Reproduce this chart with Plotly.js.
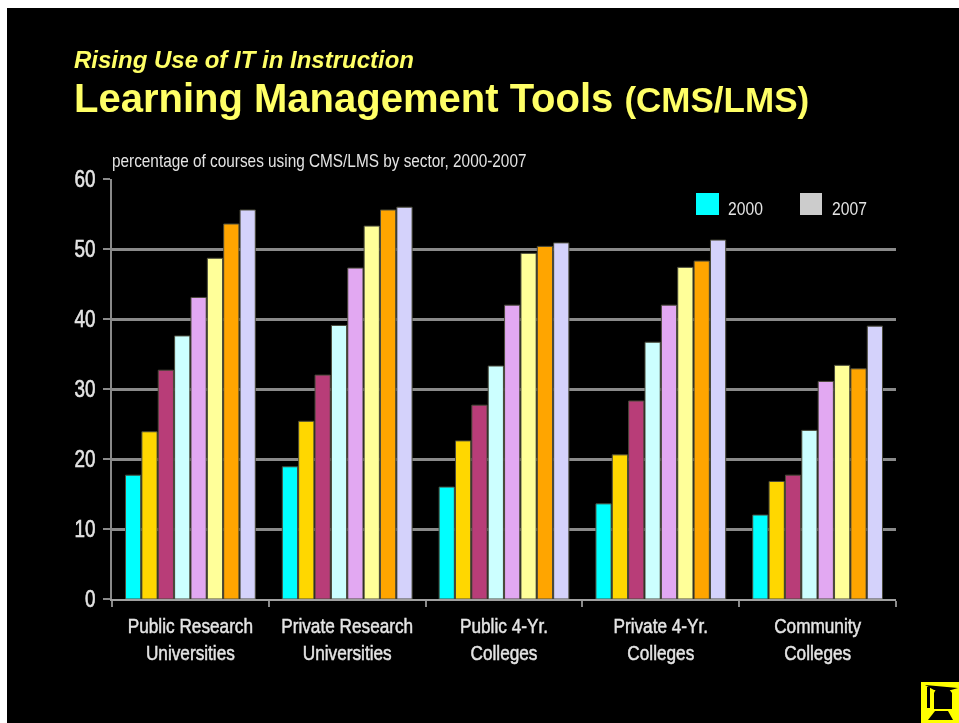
<!DOCTYPE html>
<html><head><meta charset="utf-8">
<script src="https://cdn.plot.ly/plotly-3.0.1.min.js"></script>
<style>html,body{margin:0;padding:0;background:#fff;width:959px;height:723px;overflow:hidden}
#c{position:absolute;left:7px;top:8px;width:952px;height:715px;filter:blur(0.45px)}</style>
</head><body><div id="c"></div>
<script>
const categories = ["Public Research<br>Universities","Private Research<br>Universities","Public 4-Yr.<br>Colleges","Private 4-Yr.<br>Colleges","Community<br>Colleges"];
const years = ["2000","2001","2002","2003","2004","2005","2006","2007"];
const v2000 = [17.7,18.9,16.0,13.6,12.0];
const v2001 = [23.9,25.4,22.6,20.6,16.8];
const v2002 = [32.7,32.0,27.7,28.3,17.7];
const v2003 = [37.6,39.1,33.3,36.7,24.1];
const v2004 = [43.1,47.3,42.0,42.0,31.1];
const v2005 = [48.7,53.3,49.4,47.4,33.4];
const v2006 = [53.6,55.6,50.4,48.3,32.9];
const v2007 = [55.6,56.0,50.9,51.3,39.0];
const colors = ["#00ffff","#ffd700","#b83d78","#ccffff","#e2a8f2","#ffff99","#ffa500","#d4d2fb"];
const series = [v2000,v2001,v2002,v2003,v2004,v2005,v2006,v2007];
const yticks = [0,10,20,30,40,50,60];

const traces = series.map((s,i)=>({type:"bar",name:years[i],x:categories,y:s,
  marker:{color:colors[i],line:{color:"#4a4a3a",width:1}},hoverinfo:"y"}));

const L=112,R=896,T=179,B=599;
const px=x=>(x-L)/(R-L), py=y=>(B-y)/(B-T);
const sans="Liberation Sans, Arial, sans-serif";
const txt=(text,x,y,size,color)=>({text,xref:"paper",yref:"paper",x:px(x),y:py(y),
  xanchor:"left",yanchor:"middle",showarrow:false,align:"left",font:{family:sans,size,color}});
const rect=(x0,y0,x1,y1,color)=>({type:"rect",xref:"paper",yref:"paper",x0:px(x0),x1:px(x1),y0:py(y0),y1:py(y1),
  fillcolor:color,line:{width:0},layer:"above"});
const poly=(pts,color)=>({type:"path",xref:"paper",yref:"paper",
  path:"M"+pts.map(p=>px(p[0])+","+py(p[1])).join("L")+"Z",fillcolor:color,line:{width:0},layer:"above"});

const layout={
  width:952,height:715,autosize:false,
  margin:{l:L-7,r:959-R,t:T-8,b:723-B,pad:0},
  paper_bgcolor:"#000",plot_bgcolor:"#000",showlegend:false,
  barmode:"group",bargap:0.165,bargroupgap:0.07,
  font:{family:sans,color:"#e8e8e8"},
  xaxis:{type:"category",tickson:"boundaries",ticks:"outside",ticklen:6,tickwidth:2,tickcolor:"#8a8a8a",tickangle:0,
    showline:true,linecolor:"#a0a0a0",linewidth:2,showgrid:false,ticklabelstandoff:7,
    tickfont:{family:sans,size:21,color:"#e4e4e4"}},
  yaxis:{range:[0,60.03],tickmode:"array",tickvals:yticks,ticktext:yticks.map(String),ticks:"outside",ticklen:7,tickwidth:2,
    tickcolor:"#8a8a8a",showline:true,linecolor:"#8a8a8a",linewidth:2,gridcolor:"#8a8a8a",gridwidth:3,zeroline:false,
    ticklabelstandoff:3,tickfont:{family:sans,size:23,color:"#e4e4e4"}},
  annotations:[
    txt("<b><i>Rising Use of IT in Instruction</i></b>",72,60,24,"#ffff66"),
    txt("<b>Learning Management Tools <span style='font-size:35px'>(CMS/LMS)</span></b>",72,98,40,"#ffff66"),
    txt("percentage of courses using CMS/LMS by sector, 2000-2007",110,161,18.6,"#e4e4e4"),
    txt("2000",726,208,19,"#e4e4e4"),
    txt("2007",830,208,19,"#e4e4e4")
  ],
  shapes:[
    rect(696,193,719,215,"#00ffff"),
    rect(800,193,822,215,"#cccccc"),
    rect(921,682,959,723,"#ffff00"),
    poly([[925,685],[958,688],[951,690],[934,690]],"#000"),
    poly([[936,689],[949,689],[952,693],[952,709],[934,709],[934,693]],"#000"),
    poly([[927,687],[930,687],[930,708],[927,708]],"#000"),
    poly([[935,711],[948,711],[953,720],[928,720]],"#000")
  ]
};
// The reference's chart text is horizontally squeezed and slightly heavy; adjust each label in place.
function squeeze(el,factor,anchor,weight){
  const b=el.getBBox();
  const a=anchor==="left"?b.x:anchor==="right"?b.x+b.width:b.x+b.width/2;
  const t=el.getAttribute("transform")||"";
  el.setAttribute("transform",`${t} translate(${a},0) scale(${factor},1) translate(${-a},0)`);
  if(weight){ el.style.stroke="#e4e4e4"; el.style.strokeWidth=weight+"px"; }
}
Plotly.newPlot("c",traces,layout,{displayModeBar:false,responsive:false,staticPlot:true}).then(()=>{
  document.querySelectorAll("#c .xtick text").forEach(e=>squeeze(e,0.82,"center",0.5));
  document.querySelectorAll("#c .ytick text").forEach(e=>squeeze(e,0.82,"right",0.6));
  document.querySelectorAll("#c text.annotation-text").forEach((e,i)=>{ if(i>=2) squeeze(e,0.825,"left",0); });
});
</script></body></html>
